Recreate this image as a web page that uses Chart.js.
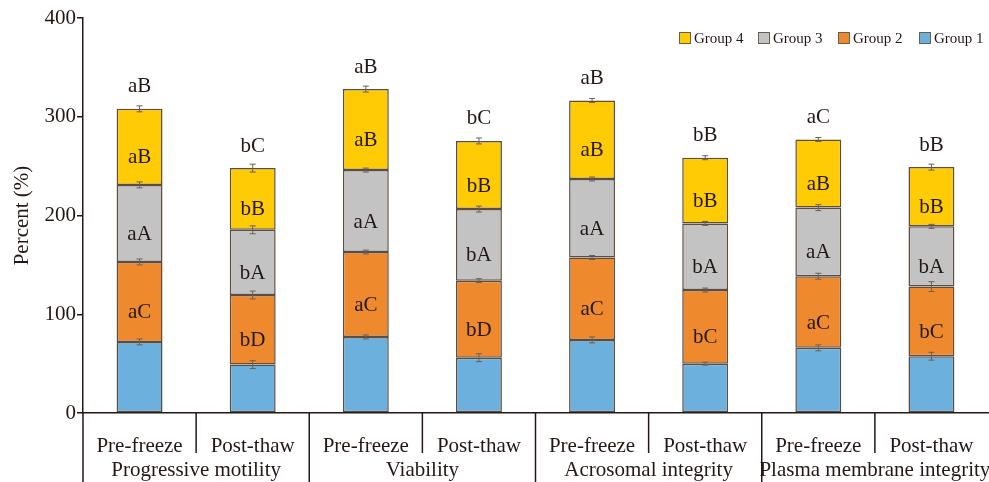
<!DOCTYPE html>
<html>
<head>
<meta charset="utf-8">
<script src="https://cdn.jsdelivr.net/npm/chart.js@4.4.1/dist/chart.umd.min.js"></script>
<style>
  body { margin: 0; background: #fff; }
</style>
</head>
<body>
<canvas id="chart" width="989" height="482"></canvas>
<script>
const categories = [
  "Pre-freeze", "Post-thaw", "Pre-freeze", "Post-thaw",
  "Pre-freeze", "Post-thaw", "Pre-freeze", "Post-thaw",
];
const groupNames = [
  "Progressive motility",
  "Viability",
  "Acrosomal integrity",
  "Plasma membrane integrity",
];

const group1 = [72, 49, 77, 56, 74, 50, 66, 57.5];
const group2 = [81, 70.5, 86, 78, 83.5, 74.5, 72.5, 70.5];
const group3 = [78, 66, 83, 72.5, 79.5, 67.5, 69.5, 61];
const group4 = [77, 62.5, 82, 69, 79.5, 66.5, 69, 60];

const group1Err = [3, 4, 2, 4, 3, 1.5, 3, 4];
const group2Err = [3, 4, 2, 2, 2, 2, 3, 5];
const group3Err = [3, 4, 2, 3, 2, 2, 3, 2];
const group4Err = [3, 4, 3, 3, 2, 2, 2, 3];

const group2Letters = ["aC", "bD", "aC", "bD", "aC", "bC", "aC", "bC"];
const group3Letters = ["aA", "bA", "aA", "bA", "aA", "bA", "aA", "bA"];
const group4Letters = ["aB", "bB", "aB", "bB", "aB", "bB", "aB", "bB"];
const totalLetters = ["aB", "bC", "aB", "bC", "aB", "bB", "aC", "bB"];

const yTicks = [0, 100, 200, 300, 400];

const ink = "#231815";
const serif = "'Liberation Serif', 'Times New Roman', serif";

const errors = [group1Err, group2Err, group3Err, group4Err];
const letters = [null, group2Letters, group3Letters, group4Letters];

const annotate = {
  id: "annotate",
  afterDatasetsDraw(chart) {
    const ctx = chart.ctx;
    const yScale = chart.scales.y;
    const xScale = chart.scales.x;
    const area = chart.chartArea;
    const unit = yScale.getPixelForValue(0) - yScale.getPixelForValue(1);

    ctx.save();
    // error whiskers
    ctx.strokeStyle = "#6a6058";
    ctx.lineWidth = 1;
    chart.data.datasets.forEach((ds, i) => {
      const meta = chart.getDatasetMeta(i);
      meta.data.forEach((bar, j) => {
        const e = errors[i][j] * unit;
        ctx.beginPath();
        ctx.moveTo(bar.x, bar.y - e);
        ctx.lineTo(bar.x, bar.y + e);
        ctx.moveTo(bar.x - 3, bar.y - e);
        ctx.lineTo(bar.x + 3, bar.y - e);
        ctx.moveTo(bar.x - 3, bar.y + e);
        ctx.lineTo(bar.x + 3, bar.y + e);
        ctx.stroke();
      });
    });

    // letters inside segments and on top
    ctx.fillStyle = ink;
    ctx.font = "21px " + serif;
    ctx.textAlign = "center";
    ctx.textBaseline = "middle";
    chart.data.datasets.forEach((ds, i) => {
      if (!letters[i]) return;
      const meta = chart.getDatasetMeta(i);
      meta.data.forEach((bar, j) => {
        const mid = (bar.y + bar.base) / 2 + 11;
        ctx.fillText(letters[i][j], bar.x, mid);
      });
    });
    const topMeta = chart.getDatasetMeta(3);
    topMeta.data.forEach((bar, j) => {
      ctx.fillText(totalLetters[j], bar.x, bar.y - 22);
    });

    // category separators below the axis
    const w = (area.right - area.left) / categories.length;
    ctx.strokeStyle = ink;
    ctx.lineWidth = 1.5;
    for (let k = 0; k < categories.length; k++) {
      const x = area.left + k * w;
      ctx.beginPath();
      ctx.moveTo(x, area.bottom);
      ctx.lineTo(x, k % 2 === 0 ? chart.height : area.bottom + 40);
      ctx.stroke();
    }

    // group labels
    groupNames.forEach((name, g) => {
      const x = (xScale.getPixelForValue(g * 2) + xScale.getPixelForValue(g * 2 + 1)) / 2;
      ctx.fillText(name, x, 470);
    });

    // legend, reversed order
    ctx.font = "15px " + serif;
    ctx.textAlign = "left";
    const legendX = [679, 758, 838, 919];
    [3, 2, 1, 0].forEach((i, n) => {
      const ds = chart.data.datasets[i];
      const x = legendX[n];
      ctx.fillStyle = ds.backgroundColor;
      ctx.fillRect(x, 32, 12, 12);
      ctx.strokeStyle = "#6b5d50";
      ctx.lineWidth = 1;
      ctx.strokeRect(x + 0.5, 32.5, 11, 11);
      ctx.fillStyle = ink;
      ctx.fillText(ds.label, x + 15, 39);
    });
    ctx.restore();
  },
};

const barStyle = {
  borderColor: "#5b4d42",
  borderWidth: 1.5,
  borderSkipped: false,
  barPercentage: 0.406,
  categoryPercentage: 1,
};

new Chart(document.getElementById("chart"), {
  type: "bar",
  data: {
    labels: categories,
    datasets: [
      { label: "Group 1", data: group1, backgroundColor: "#6cb0de", ...barStyle },
      { label: "Group 2", data: group2, backgroundColor: "#ee8a2d", ...barStyle },
      { label: "Group 3", data: group3, backgroundColor: "#c3c3c3", ...barStyle },
      { label: "Group 4", data: group4, backgroundColor: "#ffcb05", ...barStyle },
    ],
  },
  options: {
    responsive: false,
    animation: false,
    devicePixelRatio: 1,
    layout: { padding: { top: 18, right: 1, bottom: 0, left: 0 } },
    plugins: {
      legend: { display: false },
      tooltip: { enabled: false },
    },
    scales: {
      x: {
        stacked: true,
        afterFit(scale) {
          scale.height = 69;
          scale.paddingLeft = 0;
          scale.paddingRight = 0;
        },
        grid: { display: true, drawOnChartArea: false, drawTicks: false, color: "rgba(0,0,0,0)" },
        border: { display: true, color: ink, width: 1.5 },
        ticks: {
          color: ink,
          font: { family: serif, size: 21 },
          padding: 21,
          maxRotation: 0,
          autoSkip: false,
        },
      },
      y: {
        stacked: true,
        min: 0,
        max: 400,
        afterFit(scale) { scale.width = 83; },
        afterBuildTicks(scale) { scale.ticks = yTicks.map(v => ({ value: v })); },
        grid: { display: true, drawOnChartArea: false, drawTicks: true, tickLength: 6, color: ink, lineWidth: 1.5 },
        border: { display: true, color: ink, width: 1.5 },
        ticks: {
          color: ink,
          font: { family: serif, size: 21 },
          padding: 1,
        },
        title: {
          display: true,
          text: "Percent (%)",
          color: ink,
          font: { family: serif, size: 21 },
          padding: { top: 10, bottom: 0 },
        },
      },
    },
  },
  plugins: [annotate],
});
</script>
</body>
</html>
